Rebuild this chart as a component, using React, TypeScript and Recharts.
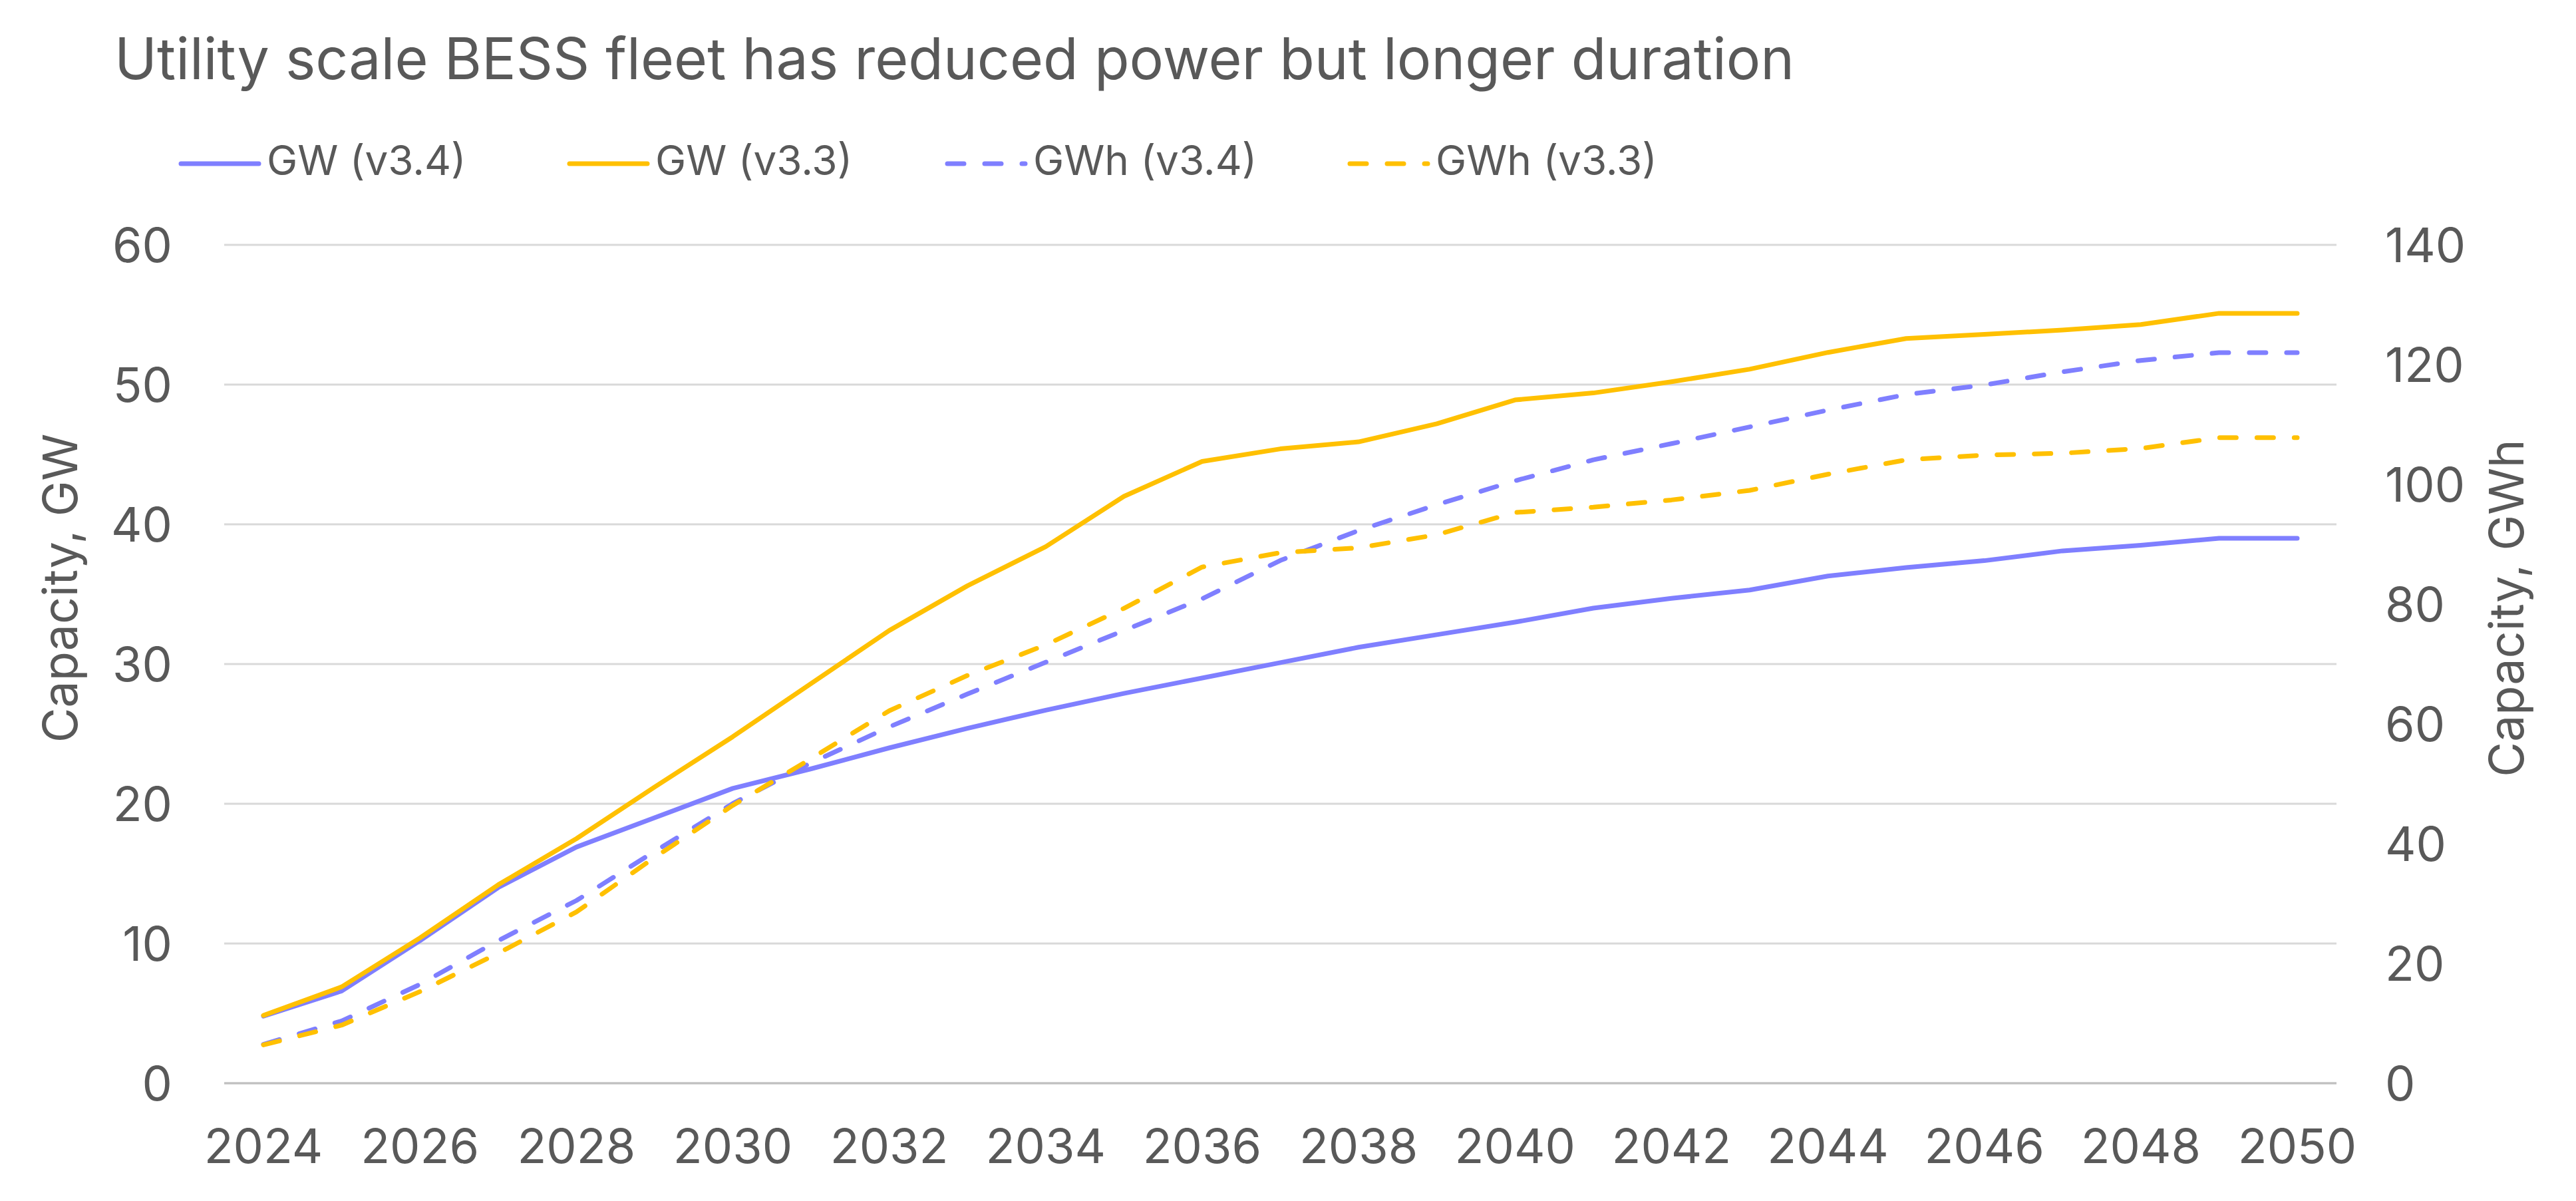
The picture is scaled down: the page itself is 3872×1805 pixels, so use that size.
import { LineChart, Line, XAxis, YAxis, CartesianGrid } from "recharts";

// years on the category axis
const years = [
  "2024", "2025", "2026", "2027", "2028", "2029", "2030", "2031", "2032",
  "2033", "2034", "2035", "2036", "2037", "2038", "2039", "2040", "2041",
  "2042", "2043", "2044", "2045", "2046", "2047", "2048", "2049", "2050",
];

// power (GW, left axis)
const gwV34 = [
  4.8, 6.6, 10.2, 14.0, 16.9, 19.0, 21.1, 22.5, 24.0, 25.4, 26.7, 27.9, 29.0,
  30.1, 31.2, 32.1, 33.0, 34.0, 34.7, 35.3, 36.3, 36.9, 37.4, 38.1, 38.5, 39.0,
  39.0,
];
const gwV33 = [
  4.85, 6.9, 10.4, 14.2, 17.5, 21.2, 24.8, 28.6, 32.4, 35.6, 38.4, 42.0, 44.5,
  45.4, 45.9, 47.2, 48.9, 49.4, 50.2, 51.1, 52.3, 53.3, 53.6, 53.9, 54.3, 55.1,
  55.1,
];

// energy (GWh, right axis)
const gwhV34 = [
  6.5, 10.4, 16.5, 23.8, 30.5, 38.7, 46.7, 53.5, 59.5, 65.0, 70.3, 75.6, 80.9,
  87.3, 92.3, 96.6, 100.6, 104.1, 106.8, 109.6, 112.4, 115.0, 116.6, 118.8,
  120.7, 122.0, 122.0,
];
const gwhV33 = [
  6.4, 9.7, 15.3, 21.7, 28.6, 37.7, 46.4, 54.2, 62.2, 68.1, 73.2, 79.3, 86.2,
  88.6, 89.4, 91.6, 95.3, 96.2, 97.4, 99.0, 101.7, 104.1, 104.9, 105.2, 106.0,
  107.8, 107.8,
];

const gwTicks = [0, 10, 20, 30, 40, 50, 60];
const gwhTicks = [0, 20, 40, 60, 80, 100, 120, 140];

const data = years.map((year, i) => ({
  year,
  gwV34: gwV34[i],
  gwV33: gwV33[i],
  gwhV34: gwhV34[i],
  gwhV33: gwhV33[i],
}));

const W = 3872;
const H = 1805;
const FONT = "Inter, 'DejaVu Sans', sans-serif";
const TEXT = "#595959";
const BLUE = "#7f7fff";
const YELLOW = "#ffc000";
const DASH = "25 31";

const legendItems = [
  { label: "GW (v3.4)", color: BLUE, dashed: false, x: 269 },
  { label: "GW (v3.3)", color: YELLOW, dashed: false, x: 853 },
  { label: "GWh (v3.4)", color: BLUE, dashed: true, x: 1421 },
  { label: "GWh (v3.3)", color: YELLOW, dashed: true, x: 2026 },
];

const tickStyle = { fill: TEXT, fontSize: 72, fontFamily: FONT };

export default function App() {
  return (
    <div
      style={{
        position: "absolute",
        left: 0,
        top: 0,
        width: W,
        height: H,
        background: "#fff",
      }}
    >
      <LineChart
        width={W}
        height={H}
        data={data}
        margin={{ top: 368, right: 120, bottom: 57, left: 137 }}
      >
        <CartesianGrid
          yAxisId="gw"
          vertical={false}
          stroke="#d9d9d9"
          strokeWidth={3}
        />
        <XAxis
          dataKey="year"
          interval={1}
          padding={{ left: 59, right: 59 }}
          height={120}
          axisLine={{ stroke: "#bfbfbf", strokeWidth: 3 }}
          tickLine={false}
          tickSize={0}
          tickMargin={69}
          tick={tickStyle}
        />
        <YAxis
          yAxisId="gw"
          orientation="left"
          width={200}
          domain={[0, 60]}
          ticks={gwTicks}
          axisLine={false}
          tickLine={false}
          tickSize={0}
          tickMargin={78}
          tick={tickStyle}
        />
        <YAxis
          yAxisId="gwh"
          orientation="right"
          width={240}
          domain={[0, 140]}
          ticks={gwhTicks}
          axisLine={false}
          tickLine={false}
          tickSize={0}
          tickMargin={73}
          tick={tickStyle}
        />
        <Line
          yAxisId="gw"
          type="linear"
          dataKey="gwV34"
          stroke={BLUE}
          strokeWidth={7}
          strokeLinecap="round"
          strokeLinejoin="round"
          dot={false}
          isAnimationActive={false}
        />
        <Line
          yAxisId="gw"
          type="linear"
          dataKey="gwV33"
          stroke={YELLOW}
          strokeWidth={7}
          strokeLinecap="round"
          strokeLinejoin="round"
          dot={false}
          isAnimationActive={false}
        />
        <Line
          yAxisId="gwh"
          type="linear"
          dataKey="gwhV34"
          stroke={BLUE}
          strokeWidth={7}
          strokeDasharray={DASH}
          strokeLinecap="round"
          strokeLinejoin="round"
          dot={false}
          isAnimationActive={false}
        />
        <Line
          yAxisId="gwh"
          type="linear"
          dataKey="gwhV33"
          stroke={YELLOW}
          strokeWidth={7}
          strokeDasharray={DASH}
          strokeLinecap="round"
          strokeLinejoin="round"
          dot={false}
          isAnimationActive={false}
        />
      </LineChart>

      {/* title, legend and axis titles */}
      <svg
        width={W}
        height={H}
        style={{ position: "absolute", left: 0, top: 0, pointerEvents: "none" }}
      >
        <text x={172} y={119} fontSize={86} fontFamily={FONT} fill={TEXT}>
          Utility scale BESS fleet has reduced power but longer duration
        </text>
        {legendItems.map((item) => (
          <g key={item.label}>
            <line
              x1={item.x + 3}
              x2={item.x + 120}
              y1={246}
              y2={246}
              stroke={item.color}
              strokeWidth={7}
              strokeLinecap="round"
              strokeDasharray={item.dashed ? DASH : undefined}
            />
            <text
              x={item.x + 132}
              y={263}
              fontSize={62}
              fontFamily={FONT}
              fill={TEXT}
            >
              {item.label}
            </text>
          </g>
        ))}
        <text
          transform="translate(116 884) rotate(-90)"
          textAnchor="middle"
          fontSize={72}
          fontFamily={FONT}
          fill={TEXT}
        >
          Capacity, GW
        </text>
        <text
          transform="translate(3793 914) rotate(-90)"
          textAnchor="middle"
          fontSize={72}
          fontFamily={FONT}
          fill={TEXT}
        >
          Capacity, GWh
        </text>
      </svg>
    </div>
  );
}
